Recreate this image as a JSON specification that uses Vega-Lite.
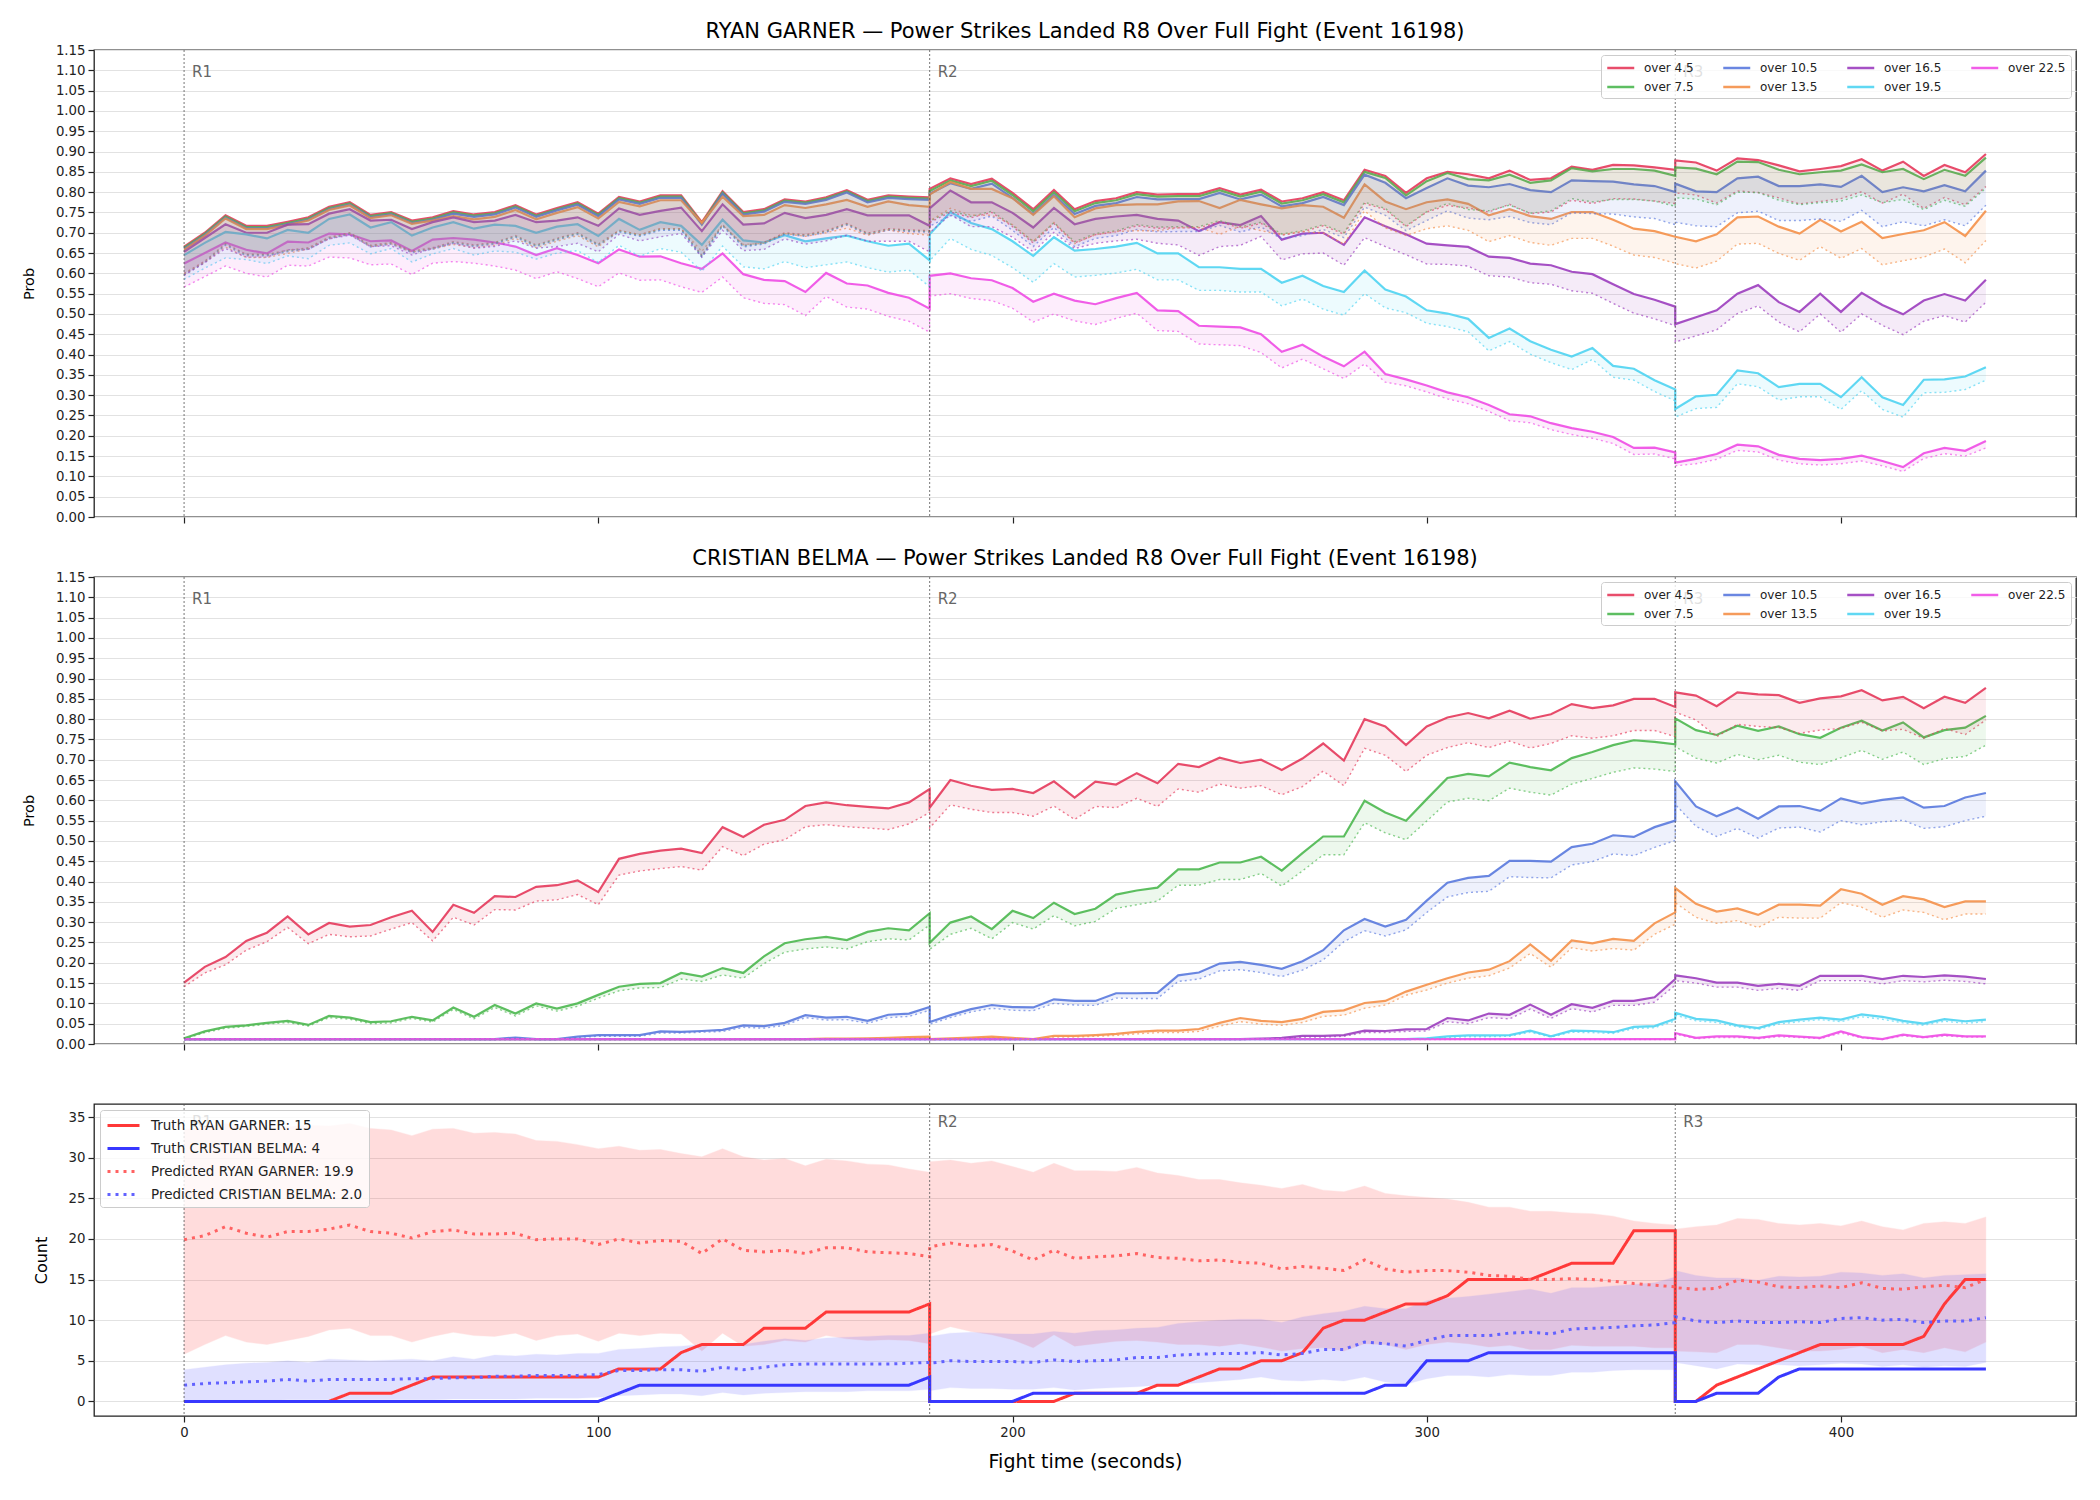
{
"$schema": "https://vega.github.io/schema/vega-lite/v6.json",
"background": "white",
"padding": {"left": 20, "top": 20, "right": 10, "bottom": 10},
"spacing": 22,
"config": {
 "font": "DejaVu Sans",
 "view": {"stroke": "#222222", "strokeWidth": 1.3},
 "title": {"fontSize": 21, "fontWeight": "normal", "anchor": "middle", "offset": 8, "color": "#000000"},
 "axis": {"labelFontSize": 13.3, "titleFontSize": 14.5, "titleFontWeight": "normal", "labelColor": "#222222", "titleColor": "#000000", "tickColor": "#222222", "tickSize": 6, "tickWidth": 1.2, "domain": false, "gridColor": "#e2e2e2", "gridWidth": 1, "labelPadding": 3, "labelOverlap": false, "labelBound": false},
 "legend": {"labelFontSize": 12, "labelColor": "#222222"}
},
"datasets": {
"rounds": [{"t":0,"r":"R1"},{"t":180,"r":"R2"},{"t":360,"r":"R3"}],
"ryan": [
{"t":0,"s":4.5,"v":0.666,"l":0.600},{"t":5,"s":4.5,"v":0.700,"l":0.630},{"t":10,"s":4.5,"v":0.743,"l":0.673},{"t":15,"s":4.5,"v":0.717,"l":0.647},{"t":20,"s":4.5,"v":0.717,"l":0.647},{"t":25,"s":4.5,"v":0.727,"l":0.657},{"t":30,"s":4.5,"v":0.738,"l":0.663},{"t":35,"s":4.5,"v":0.764,"l":0.689},{"t":40,"s":4.5,"v":0.775,"l":0.700},{"t":45,"s":4.5,"v":0.744,"l":0.669},{"t":50,"s":4.5,"v":0.751,"l":0.676},{"t":55,"s":4.5,"v":0.730,"l":0.655},{"t":60,"s":4.5,"v":0.738,"l":0.663},{"t":65,"s":4.5,"v":0.753,"l":0.678},{"t":70,"s":4.5,"v":0.745,"l":0.670},{"t":75,"s":4.5,"v":0.751,"l":0.676},{"t":80,"s":4.5,"v":0.768,"l":0.693},{"t":85,"s":4.5,"v":0.745,"l":0.670},{"t":90,"s":4.5,"v":0.761,"l":0.686},{"t":95,"s":4.5,"v":0.775,"l":0.700},{"t":100,"s":4.5,"v":0.747,"l":0.672},{"t":105,"s":4.5,"v":0.788,"l":0.706},{"t":110,"s":4.5,"v":0.777,"l":0.695},{"t":115,"s":4.5,"v":0.792,"l":0.710},{"t":120,"s":4.5,"v":0.792,"l":0.710},{"t":125,"s":4.5,"v":0.726,"l":0.644},{"t":130,"s":4.5,"v":0.802,"l":0.720},{"t":135,"s":4.5,"v":0.751,"l":0.669},{"t":140,"s":4.5,"v":0.758,"l":0.676},{"t":145,"s":4.5,"v":0.782,"l":0.700},{"t":150,"s":4.5,"v":0.777,"l":0.695},{"t":155,"s":4.5,"v":0.787,"l":0.705},{"t":160,"s":4.5,"v":0.805,"l":0.723},{"t":165,"s":4.5,"v":0.781,"l":0.699},{"t":170,"s":4.5,"v":0.792,"l":0.710},{"t":175,"s":4.5,"v":0.789,"l":0.707},{"t":180,"s":4.5,"v":0.787,"l":0.705},
{"t":180,"s":4.5,"v":0.808,"l":0.725},{"t":185,"s":4.5,"v":0.834,"l":0.751},{"t":190,"s":4.5,"v":0.820,"l":0.737},{"t":195,"s":4.5,"v":0.833,"l":0.750},{"t":200,"s":4.5,"v":0.798,"l":0.715},{"t":205,"s":4.5,"v":0.758,"l":0.675},{"t":210,"s":4.5,"v":0.805,"l":0.722},{"t":215,"s":4.5,"v":0.758,"l":0.675},{"t":220,"s":4.5,"v":0.778,"l":0.695},{"t":225,"s":4.5,"v":0.785,"l":0.702},{"t":230,"s":4.5,"v":0.800,"l":0.717},{"t":235,"s":4.5,"v":0.794,"l":0.711},{"t":240,"s":4.5,"v":0.795,"l":0.712},{"t":245,"s":4.5,"v":0.795,"l":0.712},{"t":250,"s":4.5,"v":0.810,"l":0.727},{"t":255,"s":4.5,"v":0.794,"l":0.711},{"t":260,"s":4.5,"v":0.806,"l":0.723},{"t":265,"s":4.5,"v":0.777,"l":0.694},{"t":270,"s":4.5,"v":0.785,"l":0.702},{"t":275,"s":4.5,"v":0.800,"l":0.717},{"t":280,"s":4.5,"v":0.780,"l":0.697},{"t":285,"s":4.5,"v":0.855,"l":0.772},{"t":290,"s":4.5,"v":0.840,"l":0.757},{"t":295,"s":4.5,"v":0.798,"l":0.715},{"t":300,"s":4.5,"v":0.834,"l":0.751},{"t":305,"s":4.5,"v":0.850,"l":0.767},{"t":310,"s":4.5,"v":0.844,"l":0.761},{"t":315,"s":4.5,"v":0.834,"l":0.751},{"t":320,"s":4.5,"v":0.853,"l":0.770},{"t":325,"s":4.5,"v":0.830,"l":0.747},{"t":330,"s":4.5,"v":0.834,"l":0.751},{"t":335,"s":4.5,"v":0.863,"l":0.780},{"t":340,"s":4.5,"v":0.855,"l":0.772},{"t":345,"s":4.5,"v":0.867,"l":0.784},{"t":350,"s":4.5,"v":0.866,"l":0.783},{"t":355,"s":4.5,"v":0.861,"l":0.778},{"t":360,"s":4.5,"v":0.855,"l":0.772},
{"t":360,"s":4.5,"v":0.878,"l":0.798},{"t":365,"s":4.5,"v":0.873,"l":0.793},{"t":370,"s":4.5,"v":0.853,"l":0.773},{"t":375,"s":4.5,"v":0.883,"l":0.803},{"t":380,"s":4.5,"v":0.879,"l":0.799},{"t":385,"s":4.5,"v":0.866,"l":0.786},{"t":390,"s":4.5,"v":0.851,"l":0.771},{"t":395,"s":4.5,"v":0.857,"l":0.777},{"t":400,"s":4.5,"v":0.864,"l":0.784},{"t":405,"s":4.5,"v":0.881,"l":0.801},{"t":410,"s":4.5,"v":0.853,"l":0.773},{"t":415,"s":4.5,"v":0.875,"l":0.795},{"t":420,"s":4.5,"v":0.840,"l":0.760},{"t":425,"s":4.5,"v":0.867,"l":0.787},{"t":430,"s":4.5,"v":0.849,"l":0.769},{"t":435,"s":4.5,"v":0.894,"l":0.814},
{"t":0,"s":7.5,"v":0.663,"l":0.598},{"t":5,"s":7.5,"v":0.697,"l":0.628},{"t":10,"s":7.5,"v":0.740,"l":0.671},{"t":15,"s":7.5,"v":0.714,"l":0.645},{"t":20,"s":7.5,"v":0.714,"l":0.645},{"t":25,"s":7.5,"v":0.724,"l":0.655},{"t":30,"s":7.5,"v":0.735,"l":0.661},{"t":35,"s":7.5,"v":0.761,"l":0.687},{"t":40,"s":7.5,"v":0.772,"l":0.698},{"t":45,"s":7.5,"v":0.741,"l":0.667},{"t":50,"s":7.5,"v":0.748,"l":0.674},{"t":55,"s":7.5,"v":0.727,"l":0.653},{"t":60,"s":7.5,"v":0.735,"l":0.661},{"t":65,"s":7.5,"v":0.750,"l":0.676},{"t":70,"s":7.5,"v":0.742,"l":0.668},{"t":75,"s":7.5,"v":0.748,"l":0.674},{"t":80,"s":7.5,"v":0.765,"l":0.691},{"t":85,"s":7.5,"v":0.742,"l":0.668},{"t":90,"s":7.5,"v":0.758,"l":0.684},{"t":95,"s":7.5,"v":0.772,"l":0.698},{"t":100,"s":7.5,"v":0.744,"l":0.670},{"t":105,"s":7.5,"v":0.785,"l":0.704},{"t":110,"s":7.5,"v":0.774,"l":0.693},{"t":115,"s":7.5,"v":0.789,"l":0.708},{"t":120,"s":7.5,"v":0.789,"l":0.708},{"t":125,"s":7.5,"v":0.723,"l":0.642},{"t":130,"s":7.5,"v":0.799,"l":0.718},{"t":135,"s":7.5,"v":0.748,"l":0.667},{"t":140,"s":7.5,"v":0.755,"l":0.674},{"t":145,"s":7.5,"v":0.779,"l":0.698},{"t":150,"s":7.5,"v":0.774,"l":0.693},{"t":155,"s":7.5,"v":0.784,"l":0.703},{"t":160,"s":7.5,"v":0.802,"l":0.721},{"t":165,"s":7.5,"v":0.778,"l":0.697},{"t":170,"s":7.5,"v":0.789,"l":0.708},{"t":175,"s":7.5,"v":0.786,"l":0.705},{"t":180,"s":7.5,"v":0.784,"l":0.703},
{"t":180,"s":7.5,"v":0.803,"l":0.728},{"t":185,"s":7.5,"v":0.829,"l":0.754},{"t":190,"s":7.5,"v":0.815,"l":0.740},{"t":195,"s":7.5,"v":0.828,"l":0.753},{"t":200,"s":7.5,"v":0.793,"l":0.718},{"t":205,"s":7.5,"v":0.753,"l":0.678},{"t":210,"s":7.5,"v":0.800,"l":0.725},{"t":215,"s":7.5,"v":0.753,"l":0.678},{"t":220,"s":7.5,"v":0.773,"l":0.698},{"t":225,"s":7.5,"v":0.780,"l":0.705},{"t":230,"s":7.5,"v":0.795,"l":0.720},{"t":235,"s":7.5,"v":0.789,"l":0.714},{"t":240,"s":7.5,"v":0.790,"l":0.715},{"t":245,"s":7.5,"v":0.790,"l":0.715},{"t":250,"s":7.5,"v":0.805,"l":0.730},{"t":255,"s":7.5,"v":0.789,"l":0.714},{"t":260,"s":7.5,"v":0.801,"l":0.726},{"t":265,"s":7.5,"v":0.772,"l":0.697},{"t":270,"s":7.5,"v":0.780,"l":0.705},{"t":275,"s":7.5,"v":0.795,"l":0.720},{"t":280,"s":7.5,"v":0.775,"l":0.700},{"t":285,"s":7.5,"v":0.850,"l":0.775},{"t":290,"s":7.5,"v":0.835,"l":0.760},{"t":295,"s":7.5,"v":0.792,"l":0.717},{"t":300,"s":7.5,"v":0.827,"l":0.752},{"t":305,"s":7.5,"v":0.847,"l":0.772},{"t":310,"s":7.5,"v":0.832,"l":0.757},{"t":315,"s":7.5,"v":0.829,"l":0.754},{"t":320,"s":7.5,"v":0.843,"l":0.768},{"t":325,"s":7.5,"v":0.823,"l":0.748},{"t":330,"s":7.5,"v":0.829,"l":0.754},{"t":335,"s":7.5,"v":0.859,"l":0.784},{"t":340,"s":7.5,"v":0.851,"l":0.776},{"t":345,"s":7.5,"v":0.857,"l":0.782},{"t":350,"s":7.5,"v":0.857,"l":0.782},{"t":355,"s":7.5,"v":0.853,"l":0.778},{"t":360,"s":7.5,"v":0.840,"l":0.765},
{"t":360,"s":7.5,"v":0.861,"l":0.786},{"t":365,"s":7.5,"v":0.858,"l":0.783},{"t":370,"s":7.5,"v":0.844,"l":0.769},{"t":375,"s":7.5,"v":0.875,"l":0.800},{"t":380,"s":7.5,"v":0.874,"l":0.799},{"t":385,"s":7.5,"v":0.855,"l":0.780},{"t":390,"s":7.5,"v":0.844,"l":0.769},{"t":395,"s":7.5,"v":0.849,"l":0.774},{"t":400,"s":7.5,"v":0.853,"l":0.778},{"t":405,"s":7.5,"v":0.868,"l":0.793},{"t":410,"s":7.5,"v":0.849,"l":0.774},{"t":415,"s":7.5,"v":0.857,"l":0.782},{"t":420,"s":7.5,"v":0.832,"l":0.757},{"t":425,"s":7.5,"v":0.855,"l":0.780},{"t":430,"s":7.5,"v":0.840,"l":0.765},{"t":435,"s":7.5,"v":0.885,"l":0.810},
{"t":0,"s":10.5,"v":0.660,"l":0.596},{"t":5,"s":10.5,"v":0.694,"l":0.626},{"t":10,"s":10.5,"v":0.737,"l":0.669},{"t":15,"s":10.5,"v":0.711,"l":0.643},{"t":20,"s":10.5,"v":0.711,"l":0.643},{"t":25,"s":10.5,"v":0.721,"l":0.653},{"t":30,"s":10.5,"v":0.732,"l":0.659},{"t":35,"s":10.5,"v":0.758,"l":0.685},{"t":40,"s":10.5,"v":0.769,"l":0.696},{"t":45,"s":10.5,"v":0.738,"l":0.665},{"t":50,"s":10.5,"v":0.745,"l":0.672},{"t":55,"s":10.5,"v":0.724,"l":0.651},{"t":60,"s":10.5,"v":0.732,"l":0.659},{"t":65,"s":10.5,"v":0.747,"l":0.674},{"t":70,"s":10.5,"v":0.739,"l":0.666},{"t":75,"s":10.5,"v":0.745,"l":0.672},{"t":80,"s":10.5,"v":0.762,"l":0.689},{"t":85,"s":10.5,"v":0.739,"l":0.666},{"t":90,"s":10.5,"v":0.755,"l":0.682},{"t":95,"s":10.5,"v":0.769,"l":0.696},{"t":100,"s":10.5,"v":0.741,"l":0.668},{"t":105,"s":10.5,"v":0.782,"l":0.702},{"t":110,"s":10.5,"v":0.771,"l":0.691},{"t":115,"s":10.5,"v":0.786,"l":0.706},{"t":120,"s":10.5,"v":0.786,"l":0.706},{"t":125,"s":10.5,"v":0.720,"l":0.640},{"t":130,"s":10.5,"v":0.796,"l":0.716},{"t":135,"s":10.5,"v":0.745,"l":0.665},{"t":140,"s":10.5,"v":0.752,"l":0.672},{"t":145,"s":10.5,"v":0.776,"l":0.696},{"t":150,"s":10.5,"v":0.771,"l":0.691},{"t":155,"s":10.5,"v":0.781,"l":0.701},{"t":160,"s":10.5,"v":0.799,"l":0.719},{"t":165,"s":10.5,"v":0.775,"l":0.695},{"t":170,"s":10.5,"v":0.786,"l":0.706},{"t":175,"s":10.5,"v":0.783,"l":0.703},{"t":180,"s":10.5,"v":0.781,"l":0.701},
{"t":180,"s":10.5,"v":0.796,"l":0.716},{"t":185,"s":10.5,"v":0.822,"l":0.742},{"t":190,"s":10.5,"v":0.808,"l":0.728},{"t":195,"s":10.5,"v":0.821,"l":0.741},{"t":200,"s":10.5,"v":0.786,"l":0.706},{"t":205,"s":10.5,"v":0.746,"l":0.666},{"t":210,"s":10.5,"v":0.793,"l":0.713},{"t":215,"s":10.5,"v":0.746,"l":0.666},{"t":220,"s":10.5,"v":0.766,"l":0.686},{"t":225,"s":10.5,"v":0.773,"l":0.693},{"t":230,"s":10.5,"v":0.788,"l":0.708},{"t":235,"s":10.5,"v":0.782,"l":0.702},{"t":240,"s":10.5,"v":0.783,"l":0.703},{"t":245,"s":10.5,"v":0.783,"l":0.703},{"t":250,"s":10.5,"v":0.798,"l":0.718},{"t":255,"s":10.5,"v":0.782,"l":0.702},{"t":260,"s":10.5,"v":0.794,"l":0.714},{"t":265,"s":10.5,"v":0.765,"l":0.685},{"t":270,"s":10.5,"v":0.773,"l":0.693},{"t":275,"s":10.5,"v":0.788,"l":0.708},{"t":280,"s":10.5,"v":0.768,"l":0.688},{"t":285,"s":10.5,"v":0.843,"l":0.763},{"t":290,"s":10.5,"v":0.823,"l":0.743},{"t":295,"s":10.5,"v":0.785,"l":0.705},{"t":300,"s":10.5,"v":0.810,"l":0.730},{"t":305,"s":10.5,"v":0.834,"l":0.754},{"t":310,"s":10.5,"v":0.816,"l":0.736},{"t":315,"s":10.5,"v":0.812,"l":0.732},{"t":320,"s":10.5,"v":0.820,"l":0.740},{"t":325,"s":10.5,"v":0.805,"l":0.725},{"t":330,"s":10.5,"v":0.800,"l":0.720},{"t":335,"s":10.5,"v":0.829,"l":0.749},{"t":340,"s":10.5,"v":0.827,"l":0.747},{"t":345,"s":10.5,"v":0.826,"l":0.746},{"t":350,"s":10.5,"v":0.819,"l":0.739},{"t":355,"s":10.5,"v":0.815,"l":0.735},{"t":360,"s":10.5,"v":0.800,"l":0.720},
{"t":360,"s":10.5,"v":0.821,"l":0.726},{"t":365,"s":10.5,"v":0.802,"l":0.717},{"t":370,"s":10.5,"v":0.800,"l":0.715},{"t":375,"s":10.5,"v":0.834,"l":0.749},{"t":380,"s":10.5,"v":0.838,"l":0.753},{"t":385,"s":10.5,"v":0.815,"l":0.730},{"t":390,"s":10.5,"v":0.815,"l":0.730},{"t":395,"s":10.5,"v":0.819,"l":0.734},{"t":400,"s":10.5,"v":0.813,"l":0.728},{"t":405,"s":10.5,"v":0.840,"l":0.755},{"t":410,"s":10.5,"v":0.800,"l":0.715},{"t":415,"s":10.5,"v":0.812,"l":0.727},{"t":420,"s":10.5,"v":0.802,"l":0.717},{"t":425,"s":10.5,"v":0.817,"l":0.732},{"t":430,"s":10.5,"v":0.802,"l":0.717},{"t":435,"s":10.5,"v":0.853,"l":0.768},
{"t":0,"s":13.5,"v":0.658,"l":0.598},{"t":5,"s":13.5,"v":0.692,"l":0.627},{"t":10,"s":13.5,"v":0.735,"l":0.665},{"t":15,"s":13.5,"v":0.709,"l":0.639},{"t":20,"s":13.5,"v":0.709,"l":0.639},{"t":25,"s":13.5,"v":0.719,"l":0.649},{"t":30,"s":13.5,"v":0.730,"l":0.660},{"t":35,"s":13.5,"v":0.756,"l":0.686},{"t":40,"s":13.5,"v":0.767,"l":0.697},{"t":45,"s":13.5,"v":0.736,"l":0.666},{"t":50,"s":13.5,"v":0.743,"l":0.673},{"t":55,"s":13.5,"v":0.722,"l":0.652},{"t":60,"s":13.5,"v":0.730,"l":0.660},{"t":65,"s":13.5,"v":0.741,"l":0.671},{"t":70,"s":13.5,"v":0.733,"l":0.663},{"t":75,"s":13.5,"v":0.739,"l":0.669},{"t":80,"s":13.5,"v":0.756,"l":0.686},{"t":85,"s":13.5,"v":0.733,"l":0.663},{"t":90,"s":13.5,"v":0.749,"l":0.679},{"t":95,"s":13.5,"v":0.763,"l":0.693},{"t":100,"s":13.5,"v":0.735,"l":0.665},{"t":105,"s":13.5,"v":0.776,"l":0.706},{"t":110,"s":13.5,"v":0.765,"l":0.695},{"t":115,"s":13.5,"v":0.780,"l":0.710},{"t":120,"s":13.5,"v":0.780,"l":0.710},{"t":125,"s":13.5,"v":0.724,"l":0.654},{"t":130,"s":13.5,"v":0.789,"l":0.719},{"t":135,"s":13.5,"v":0.741,"l":0.671},{"t":140,"s":13.5,"v":0.744,"l":0.674},{"t":145,"s":13.5,"v":0.768,"l":0.698},{"t":150,"s":13.5,"v":0.761,"l":0.691},{"t":155,"s":13.5,"v":0.770,"l":0.700},{"t":160,"s":13.5,"v":0.781,"l":0.711},{"t":165,"s":13.5,"v":0.764,"l":0.694},{"t":170,"s":13.5,"v":0.777,"l":0.707},{"t":175,"s":13.5,"v":0.768,"l":0.698},{"t":180,"s":13.5,"v":0.764,"l":0.694},
{"t":180,"s":13.5,"v":0.794,"l":0.729},{"t":185,"s":13.5,"v":0.825,"l":0.760},{"t":190,"s":13.5,"v":0.808,"l":0.743},{"t":195,"s":13.5,"v":0.808,"l":0.743},{"t":200,"s":13.5,"v":0.785,"l":0.720},{"t":205,"s":13.5,"v":0.744,"l":0.679},{"t":210,"s":13.5,"v":0.790,"l":0.725},{"t":215,"s":13.5,"v":0.738,"l":0.673},{"t":220,"s":13.5,"v":0.760,"l":0.695},{"t":225,"s":13.5,"v":0.768,"l":0.703},{"t":230,"s":13.5,"v":0.770,"l":0.705},{"t":235,"s":13.5,"v":0.770,"l":0.705},{"t":240,"s":13.5,"v":0.777,"l":0.712},{"t":245,"s":13.5,"v":0.778,"l":0.713},{"t":250,"s":13.5,"v":0.761,"l":0.696},{"t":255,"s":13.5,"v":0.781,"l":0.716},{"t":260,"s":13.5,"v":0.770,"l":0.705},{"t":265,"s":13.5,"v":0.760,"l":0.695},{"t":270,"s":13.5,"v":0.768,"l":0.703},{"t":275,"s":13.5,"v":0.764,"l":0.699},{"t":280,"s":13.5,"v":0.737,"l":0.672},{"t":285,"s":13.5,"v":0.819,"l":0.754},{"t":290,"s":13.5,"v":0.777,"l":0.712},{"t":295,"s":13.5,"v":0.758,"l":0.693},{"t":300,"s":13.5,"v":0.775,"l":0.710},{"t":305,"s":13.5,"v":0.782,"l":0.717},{"t":310,"s":13.5,"v":0.771,"l":0.706},{"t":315,"s":13.5,"v":0.743,"l":0.678},{"t":320,"s":13.5,"v":0.758,"l":0.693},{"t":325,"s":13.5,"v":0.741,"l":0.676},{"t":330,"s":13.5,"v":0.734,"l":0.669},{"t":335,"s":13.5,"v":0.751,"l":0.686},{"t":340,"s":13.5,"v":0.751,"l":0.686},{"t":345,"s":13.5,"v":0.732,"l":0.667},{"t":350,"s":13.5,"v":0.710,"l":0.645},{"t":355,"s":13.5,"v":0.704,"l":0.639},{"t":360,"s":13.5,"v":0.690,"l":0.625},
{"t":360,"s":13.5,"v":0.690,"l":0.624},{"t":365,"s":13.5,"v":0.679,"l":0.613},{"t":370,"s":13.5,"v":0.696,"l":0.630},{"t":375,"s":13.5,"v":0.738,"l":0.672},{"t":380,"s":13.5,"v":0.740,"l":0.674},{"t":385,"s":13.5,"v":0.715,"l":0.649},{"t":390,"s":13.5,"v":0.698,"l":0.632},{"t":395,"s":13.5,"v":0.732,"l":0.666},{"t":400,"s":13.5,"v":0.703,"l":0.637},{"t":405,"s":13.5,"v":0.727,"l":0.661},{"t":410,"s":13.5,"v":0.687,"l":0.621},{"t":415,"s":13.5,"v":0.697,"l":0.631},{"t":420,"s":13.5,"v":0.706,"l":0.640},{"t":425,"s":13.5,"v":0.726,"l":0.660},{"t":430,"s":13.5,"v":0.692,"l":0.626},{"t":435,"s":13.5,"v":0.754,"l":0.681},
{"t":0,"s":16.5,"v":0.653,"l":0.595},{"t":5,"s":16.5,"v":0.687,"l":0.627},{"t":10,"s":16.5,"v":0.721,"l":0.661},{"t":15,"s":16.5,"v":0.700,"l":0.640},{"t":20,"s":16.5,"v":0.700,"l":0.640},{"t":25,"s":16.5,"v":0.720,"l":0.658},{"t":30,"s":16.5,"v":0.721,"l":0.659},{"t":35,"s":16.5,"v":0.747,"l":0.685},{"t":40,"s":16.5,"v":0.758,"l":0.694},{"t":45,"s":16.5,"v":0.730,"l":0.666},{"t":50,"s":16.5,"v":0.732,"l":0.668},{"t":55,"s":16.5,"v":0.709,"l":0.645},{"t":60,"s":16.5,"v":0.726,"l":0.662},{"t":65,"s":16.5,"v":0.738,"l":0.674},{"t":70,"s":16.5,"v":0.726,"l":0.662},{"t":75,"s":16.5,"v":0.730,"l":0.666},{"t":80,"s":16.5,"v":0.744,"l":0.680},{"t":85,"s":16.5,"v":0.726,"l":0.662},{"t":90,"s":16.5,"v":0.730,"l":0.666},{"t":95,"s":16.5,"v":0.738,"l":0.674},{"t":100,"s":16.5,"v":0.717,"l":0.653},{"t":105,"s":16.5,"v":0.760,"l":0.696},{"t":110,"s":16.5,"v":0.744,"l":0.680},{"t":115,"s":16.5,"v":0.754,"l":0.690},{"t":120,"s":16.5,"v":0.762,"l":0.698},{"t":125,"s":16.5,"v":0.704,"l":0.640},{"t":130,"s":16.5,"v":0.770,"l":0.706},{"t":135,"s":16.5,"v":0.720,"l":0.656},{"t":140,"s":16.5,"v":0.723,"l":0.659},{"t":145,"s":16.5,"v":0.749,"l":0.685},{"t":150,"s":16.5,"v":0.736,"l":0.672},{"t":155,"s":16.5,"v":0.744,"l":0.680},{"t":160,"s":16.5,"v":0.758,"l":0.694},{"t":165,"s":16.5,"v":0.743,"l":0.679},{"t":170,"s":16.5,"v":0.743,"l":0.679},{"t":175,"s":16.5,"v":0.743,"l":0.679},{"t":180,"s":16.5,"v":0.717,"l":0.653},
{"t":180,"s":16.5,"v":0.760,"l":0.700},{"t":185,"s":16.5,"v":0.804,"l":0.744},{"t":190,"s":16.5,"v":0.775,"l":0.715},{"t":195,"s":16.5,"v":0.775,"l":0.715},{"t":200,"s":16.5,"v":0.749,"l":0.689},{"t":205,"s":16.5,"v":0.713,"l":0.653},{"t":210,"s":16.5,"v":0.761,"l":0.701},{"t":215,"s":16.5,"v":0.721,"l":0.661},{"t":220,"s":16.5,"v":0.734,"l":0.674},{"t":225,"s":16.5,"v":0.740,"l":0.680},{"t":230,"s":16.5,"v":0.744,"l":0.684},{"t":235,"s":16.5,"v":0.734,"l":0.674},{"t":240,"s":16.5,"v":0.730,"l":0.670},{"t":245,"s":16.5,"v":0.704,"l":0.644},{"t":250,"s":16.5,"v":0.726,"l":0.666},{"t":255,"s":16.5,"v":0.719,"l":0.669},{"t":260,"s":16.5,"v":0.741,"l":0.691},{"t":265,"s":16.5,"v":0.683,"l":0.633},{"t":270,"s":16.5,"v":0.698,"l":0.648},{"t":275,"s":16.5,"v":0.700,"l":0.650},{"t":280,"s":16.5,"v":0.670,"l":0.620},{"t":285,"s":16.5,"v":0.738,"l":0.688},{"t":290,"s":16.5,"v":0.716,"l":0.666},{"t":295,"s":16.5,"v":0.696,"l":0.646},{"t":300,"s":16.5,"v":0.673,"l":0.623},{"t":305,"s":16.5,"v":0.669,"l":0.622},{"t":310,"s":16.5,"v":0.665,"l":0.618},{"t":315,"s":16.5,"v":0.641,"l":0.594},{"t":320,"s":16.5,"v":0.638,"l":0.591},{"t":325,"s":16.5,"v":0.624,"l":0.577},{"t":330,"s":16.5,"v":0.620,"l":0.573},{"t":335,"s":16.5,"v":0.604,"l":0.557},{"t":340,"s":16.5,"v":0.598,"l":0.551},{"t":345,"s":16.5,"v":0.573,"l":0.526},{"t":350,"s":16.5,"v":0.549,"l":0.502},{"t":355,"s":16.5,"v":0.535,"l":0.488},{"t":360,"s":16.5,"v":0.518,"l":0.471},
{"t":360,"s":16.5,"v":0.475,"l":0.431},{"t":365,"s":16.5,"v":0.492,"l":0.446},{"t":370,"s":16.5,"v":0.509,"l":0.461},{"t":375,"s":16.5,"v":0.550,"l":0.501},{"t":380,"s":16.5,"v":0.571,"l":0.520},{"t":385,"s":16.5,"v":0.529,"l":0.480},{"t":390,"s":16.5,"v":0.505,"l":0.456},{"t":395,"s":16.5,"v":0.550,"l":0.500},{"t":400,"s":16.5,"v":0.505,"l":0.455},{"t":405,"s":16.5,"v":0.552,"l":0.500},{"t":410,"s":16.5,"v":0.522,"l":0.472},{"t":415,"s":16.5,"v":0.499,"l":0.449},{"t":420,"s":16.5,"v":0.533,"l":0.482},{"t":425,"s":16.5,"v":0.549,"l":0.496},{"t":430,"s":16.5,"v":0.533,"l":0.480},{"t":435,"s":16.5,"v":0.584,"l":0.529},
{"t":0,"s":19.5,"v":0.645,"l":0.585},{"t":5,"s":19.5,"v":0.675,"l":0.613},{"t":10,"s":19.5,"v":0.702,"l":0.638},{"t":15,"s":19.5,"v":0.696,"l":0.634},{"t":20,"s":19.5,"v":0.686,"l":0.624},{"t":25,"s":19.5,"v":0.707,"l":0.643},{"t":30,"s":19.5,"v":0.700,"l":0.636},{"t":35,"s":19.5,"v":0.734,"l":0.669},{"t":40,"s":19.5,"v":0.745,"l":0.675},{"t":45,"s":19.5,"v":0.713,"l":0.648},{"t":50,"s":19.5,"v":0.726,"l":0.661},{"t":55,"s":19.5,"v":0.693,"l":0.628},{"t":60,"s":19.5,"v":0.713,"l":0.648},{"t":65,"s":19.5,"v":0.726,"l":0.661},{"t":70,"s":19.5,"v":0.710,"l":0.645},{"t":75,"s":19.5,"v":0.720,"l":0.655},{"t":80,"s":19.5,"v":0.717,"l":0.652},{"t":85,"s":19.5,"v":0.700,"l":0.635},{"t":90,"s":19.5,"v":0.715,"l":0.650},{"t":95,"s":19.5,"v":0.721,"l":0.656},{"t":100,"s":19.5,"v":0.692,"l":0.627},{"t":105,"s":19.5,"v":0.734,"l":0.669},{"t":110,"s":19.5,"v":0.707,"l":0.642},{"t":115,"s":19.5,"v":0.726,"l":0.661},{"t":120,"s":19.5,"v":0.717,"l":0.652},{"t":125,"s":19.5,"v":0.670,"l":0.605},{"t":130,"s":19.5,"v":0.732,"l":0.667},{"t":135,"s":19.5,"v":0.681,"l":0.616},{"t":140,"s":19.5,"v":0.676,"l":0.611},{"t":145,"s":19.5,"v":0.694,"l":0.629},{"t":150,"s":19.5,"v":0.679,"l":0.614},{"t":155,"s":19.5,"v":0.686,"l":0.621},{"t":160,"s":19.5,"v":0.693,"l":0.628},{"t":165,"s":19.5,"v":0.679,"l":0.614},{"t":170,"s":19.5,"v":0.668,"l":0.603},{"t":175,"s":19.5,"v":0.673,"l":0.608},{"t":180,"s":19.5,"v":0.632,"l":0.567},
{"t":180,"s":19.5,"v":0.696,"l":0.631},{"t":185,"s":19.5,"v":0.751,"l":0.686},{"t":190,"s":19.5,"v":0.724,"l":0.659},{"t":195,"s":19.5,"v":0.709,"l":0.644},{"t":200,"s":19.5,"v":0.679,"l":0.614},{"t":205,"s":19.5,"v":0.643,"l":0.578},{"t":210,"s":19.5,"v":0.689,"l":0.624},{"t":215,"s":19.5,"v":0.656,"l":0.591},{"t":220,"s":19.5,"v":0.660,"l":0.595},{"t":225,"s":19.5,"v":0.666,"l":0.601},{"t":230,"s":19.5,"v":0.675,"l":0.610},{"t":235,"s":19.5,"v":0.649,"l":0.584},{"t":240,"s":19.5,"v":0.649,"l":0.584},{"t":245,"s":19.5,"v":0.615,"l":0.558},{"t":250,"s":19.5,"v":0.615,"l":0.558},{"t":255,"s":19.5,"v":0.611,"l":0.554},{"t":260,"s":19.5,"v":0.611,"l":0.554},{"t":265,"s":19.5,"v":0.577,"l":0.520},{"t":270,"s":19.5,"v":0.594,"l":0.537},{"t":275,"s":19.5,"v":0.569,"l":0.512},{"t":280,"s":19.5,"v":0.554,"l":0.497},{"t":285,"s":19.5,"v":0.607,"l":0.550},{"t":290,"s":19.5,"v":0.560,"l":0.515},{"t":295,"s":19.5,"v":0.543,"l":0.503},{"t":300,"s":19.5,"v":0.509,"l":0.477},{"t":305,"s":19.5,"v":0.501,"l":0.469},{"t":310,"s":19.5,"v":0.488,"l":0.456},{"t":315,"s":19.5,"v":0.441,"l":0.409},{"t":320,"s":19.5,"v":0.464,"l":0.432},{"t":325,"s":19.5,"v":0.433,"l":0.401},{"t":330,"s":19.5,"v":0.412,"l":0.380},{"t":335,"s":19.5,"v":0.395,"l":0.363},{"t":340,"s":19.5,"v":0.416,"l":0.388},{"t":345,"s":19.5,"v":0.372,"l":0.344},{"t":350,"s":19.5,"v":0.365,"l":0.337},{"t":355,"s":19.5,"v":0.337,"l":0.309},{"t":360,"s":19.5,"v":0.314,"l":0.286},
{"t":360,"s":19.5,"v":0.266,"l":0.246},{"t":365,"s":19.5,"v":0.297,"l":0.267},{"t":370,"s":19.5,"v":0.301,"l":0.270},{"t":375,"s":19.5,"v":0.361,"l":0.328},{"t":380,"s":19.5,"v":0.354,"l":0.321},{"t":385,"s":19.5,"v":0.320,"l":0.288},{"t":390,"s":19.5,"v":0.328,"l":0.296},{"t":395,"s":19.5,"v":0.328,"l":0.296},{"t":400,"s":19.5,"v":0.295,"l":0.265},{"t":405,"s":19.5,"v":0.344,"l":0.311},{"t":410,"s":19.5,"v":0.295,"l":0.265},{"t":415,"s":19.5,"v":0.276,"l":0.246},{"t":420,"s":19.5,"v":0.338,"l":0.306},{"t":425,"s":19.5,"v":0.339,"l":0.307},{"t":430,"s":19.5,"v":0.346,"l":0.314},{"t":435,"s":19.5,"v":0.369,"l":0.337},
{"t":0,"s":22.5,"v":0.624,"l":0.566},{"t":5,"s":22.5,"v":0.650,"l":0.592},{"t":10,"s":22.5,"v":0.676,"l":0.618},{"t":15,"s":22.5,"v":0.658,"l":0.600},{"t":20,"s":22.5,"v":0.649,"l":0.591},{"t":25,"s":22.5,"v":0.678,"l":0.620},{"t":30,"s":22.5,"v":0.676,"l":0.618},{"t":35,"s":22.5,"v":0.698,"l":0.640},{"t":40,"s":22.5,"v":0.696,"l":0.638},{"t":45,"s":22.5,"v":0.679,"l":0.621},{"t":50,"s":22.5,"v":0.681,"l":0.623},{"t":55,"s":22.5,"v":0.655,"l":0.597},{"t":60,"s":22.5,"v":0.683,"l":0.625},{"t":65,"s":22.5,"v":0.687,"l":0.629},{"t":70,"s":22.5,"v":0.683,"l":0.625},{"t":75,"s":22.5,"v":0.676,"l":0.618},{"t":80,"s":22.5,"v":0.666,"l":0.608},{"t":85,"s":22.5,"v":0.645,"l":0.587},{"t":90,"s":22.5,"v":0.662,"l":0.604},{"t":95,"s":22.5,"v":0.645,"l":0.587},{"t":100,"s":22.5,"v":0.625,"l":0.567},{"t":105,"s":22.5,"v":0.659,"l":0.601},{"t":110,"s":22.5,"v":0.641,"l":0.583},{"t":115,"s":22.5,"v":0.642,"l":0.584},{"t":120,"s":22.5,"v":0.625,"l":0.567},{"t":125,"s":22.5,"v":0.611,"l":0.553},{"t":130,"s":22.5,"v":0.649,"l":0.591},{"t":135,"s":22.5,"v":0.598,"l":0.540},{"t":140,"s":22.5,"v":0.584,"l":0.526},{"t":145,"s":22.5,"v":0.581,"l":0.523},{"t":150,"s":22.5,"v":0.554,"l":0.496},{"t":155,"s":22.5,"v":0.601,"l":0.543},{"t":160,"s":22.5,"v":0.575,"l":0.517},{"t":165,"s":22.5,"v":0.570,"l":0.512},{"t":170,"s":22.5,"v":0.552,"l":0.494},{"t":175,"s":22.5,"v":0.540,"l":0.482},{"t":180,"s":22.5,"v":0.513,"l":0.455},
{"t":180,"s":22.5,"v":0.594,"l":0.544},{"t":185,"s":22.5,"v":0.600,"l":0.550},{"t":190,"s":22.5,"v":0.588,"l":0.538},{"t":195,"s":22.5,"v":0.583,"l":0.533},{"t":200,"s":22.5,"v":0.564,"l":0.514},{"t":205,"s":22.5,"v":0.530,"l":0.480},{"t":210,"s":22.5,"v":0.550,"l":0.500},{"t":215,"s":22.5,"v":0.533,"l":0.483},{"t":220,"s":22.5,"v":0.524,"l":0.474},{"t":225,"s":22.5,"v":0.539,"l":0.489},{"t":230,"s":22.5,"v":0.552,"l":0.502},{"t":235,"s":22.5,"v":0.509,"l":0.459},{"t":240,"s":22.5,"v":0.507,"l":0.457},{"t":245,"s":22.5,"v":0.471,"l":0.426},{"t":250,"s":22.5,"v":0.469,"l":0.424},{"t":255,"s":22.5,"v":0.467,"l":0.422},{"t":260,"s":22.5,"v":0.450,"l":0.405},{"t":265,"s":22.5,"v":0.407,"l":0.367},{"t":270,"s":22.5,"v":0.424,"l":0.389},{"t":275,"s":22.5,"v":0.395,"l":0.365},{"t":280,"s":22.5,"v":0.371,"l":0.341},{"t":285,"s":22.5,"v":0.407,"l":0.377},{"t":290,"s":22.5,"v":0.352,"l":0.332},{"t":295,"s":22.5,"v":0.339,"l":0.323},{"t":300,"s":22.5,"v":0.324,"l":0.308},{"t":305,"s":22.5,"v":0.307,"l":0.291},{"t":310,"s":22.5,"v":0.295,"l":0.279},{"t":315,"s":22.5,"v":0.276,"l":0.260},{"t":320,"s":22.5,"v":0.253,"l":0.237},{"t":325,"s":22.5,"v":0.248,"l":0.232},{"t":330,"s":22.5,"v":0.231,"l":0.215},{"t":335,"s":22.5,"v":0.219,"l":0.203},{"t":340,"s":22.5,"v":0.210,"l":0.194},{"t":345,"s":22.5,"v":0.197,"l":0.181},{"t":350,"s":22.5,"v":0.170,"l":0.154},{"t":355,"s":22.5,"v":0.171,"l":0.155},{"t":360,"s":22.5,"v":0.159,"l":0.143},
{"t":360,"s":22.5,"v":0.134,"l":0.126},{"t":365,"s":22.5,"v":0.143,"l":0.131},{"t":370,"s":22.5,"v":0.155,"l":0.142},{"t":375,"s":22.5,"v":0.178,"l":0.164},{"t":380,"s":22.5,"v":0.174,"l":0.160},{"t":385,"s":22.5,"v":0.153,"l":0.140},{"t":390,"s":22.5,"v":0.143,"l":0.131},{"t":395,"s":22.5,"v":0.140,"l":0.128},{"t":400,"s":22.5,"v":0.143,"l":0.131},{"t":405,"s":22.5,"v":0.151,"l":0.138},{"t":410,"s":22.5,"v":0.138,"l":0.126},{"t":415,"s":22.5,"v":0.123,"l":0.112},{"t":420,"s":22.5,"v":0.157,"l":0.144},{"t":425,"s":22.5,"v":0.170,"l":0.156},{"t":430,"s":22.5,"v":0.163,"l":0.150},{"t":435,"s":22.5,"v":0.187,"l":0.170}
],
"belma": [
{"t":0,"s":4.5,"v":0.151,"l":0.141},{"t":5,"s":4.5,"v":0.190,"l":0.175},{"t":10,"s":4.5,"v":0.214,"l":0.195},{"t":15,"s":4.5,"v":0.254,"l":0.231},{"t":20,"s":4.5,"v":0.274,"l":0.252},{"t":25,"s":4.5,"v":0.314,"l":0.287},{"t":30,"s":4.5,"v":0.270,"l":0.247},{"t":35,"s":4.5,"v":0.298,"l":0.270},{"t":40,"s":4.5,"v":0.289,"l":0.264},{"t":45,"s":4.5,"v":0.293,"l":0.266},{"t":50,"s":4.5,"v":0.312,"l":0.283},{"t":55,"s":4.5,"v":0.328,"l":0.299},{"t":60,"s":4.5,"v":0.276,"l":0.254},{"t":65,"s":4.5,"v":0.343,"l":0.312},{"t":70,"s":4.5,"v":0.323,"l":0.293},{"t":75,"s":4.5,"v":0.364,"l":0.331},{"t":80,"s":4.5,"v":0.362,"l":0.330},{"t":85,"s":4.5,"v":0.387,"l":0.352},{"t":90,"s":4.5,"v":0.391,"l":0.355},{"t":95,"s":4.5,"v":0.403,"l":0.368},{"t":100,"s":4.5,"v":0.374,"l":0.343},{"t":105,"s":4.5,"v":0.456,"l":0.416},{"t":110,"s":4.5,"v":0.468,"l":0.426},{"t":115,"s":4.5,"v":0.476,"l":0.432},{"t":120,"s":4.5,"v":0.481,"l":0.437},{"t":125,"s":4.5,"v":0.470,"l":0.428},{"t":130,"s":4.5,"v":0.534,"l":0.486},{"t":135,"s":4.5,"v":0.510,"l":0.464},{"t":140,"s":4.5,"v":0.540,"l":0.492},{"t":145,"s":4.5,"v":0.552,"l":0.503},{"t":150,"s":4.5,"v":0.586,"l":0.535},{"t":155,"s":4.5,"v":0.595,"l":0.540},{"t":160,"s":4.5,"v":0.588,"l":0.535},{"t":165,"s":4.5,"v":0.584,"l":0.532},{"t":170,"s":4.5,"v":0.580,"l":0.528},{"t":175,"s":4.5,"v":0.595,"l":0.542},{"t":180,"s":4.5,"v":0.628,"l":0.570},
{"t":180,"s":4.5,"v":0.582,"l":0.532},{"t":185,"s":4.5,"v":0.650,"l":0.589},{"t":190,"s":4.5,"v":0.636,"l":0.578},{"t":195,"s":4.5,"v":0.626,"l":0.570},{"t":200,"s":4.5,"v":0.628,"l":0.570},{"t":205,"s":4.5,"v":0.618,"l":0.561},{"t":210,"s":4.5,"v":0.647,"l":0.586},{"t":215,"s":4.5,"v":0.607,"l":0.553},{"t":220,"s":4.5,"v":0.646,"l":0.585},{"t":225,"s":4.5,"v":0.639,"l":0.582},{"t":230,"s":4.5,"v":0.667,"l":0.605},{"t":235,"s":4.5,"v":0.642,"l":0.585},{"t":240,"s":4.5,"v":0.690,"l":0.628},{"t":245,"s":4.5,"v":0.682,"l":0.620},{"t":250,"s":4.5,"v":0.705,"l":0.640},{"t":255,"s":4.5,"v":0.692,"l":0.630},{"t":260,"s":4.5,"v":0.700,"l":0.636},{"t":265,"s":4.5,"v":0.675,"l":0.614},{"t":270,"s":4.5,"v":0.703,"l":0.634},{"t":275,"s":4.5,"v":0.740,"l":0.672},{"t":280,"s":4.5,"v":0.698,"l":0.636},{"t":285,"s":4.5,"v":0.800,"l":0.728},{"t":290,"s":4.5,"v":0.782,"l":0.711},{"t":295,"s":4.5,"v":0.736,"l":0.671},{"t":300,"s":4.5,"v":0.782,"l":0.711},{"t":305,"s":4.5,"v":0.804,"l":0.730},{"t":310,"s":4.5,"v":0.815,"l":0.742},{"t":315,"s":4.5,"v":0.802,"l":0.730},{"t":320,"s":4.5,"v":0.821,"l":0.746},{"t":325,"s":4.5,"v":0.801,"l":0.729},{"t":330,"s":4.5,"v":0.812,"l":0.740},{"t":335,"s":4.5,"v":0.837,"l":0.759},{"t":340,"s":4.5,"v":0.827,"l":0.753},{"t":345,"s":4.5,"v":0.834,"l":0.759},{"t":350,"s":4.5,"v":0.850,"l":0.772},{"t":355,"s":4.5,"v":0.850,"l":0.772},{"t":360,"s":4.5,"v":0.830,"l":0.757},
{"t":360,"s":4.5,"v":0.866,"l":0.817},{"t":365,"s":4.5,"v":0.858,"l":0.798},{"t":370,"s":4.5,"v":0.832,"l":0.757},{"t":375,"s":4.5,"v":0.866,"l":0.787},{"t":380,"s":4.5,"v":0.861,"l":0.782},{"t":385,"s":4.5,"v":0.859,"l":0.779},{"t":390,"s":4.5,"v":0.840,"l":0.765},{"t":395,"s":4.5,"v":0.851,"l":0.773},{"t":400,"s":4.5,"v":0.856,"l":0.777},{"t":405,"s":4.5,"v":0.871,"l":0.792},{"t":410,"s":4.5,"v":0.846,"l":0.771},{"t":415,"s":4.5,"v":0.855,"l":0.775},{"t":420,"s":4.5,"v":0.827,"l":0.753},{"t":425,"s":4.5,"v":0.855,"l":0.777},{"t":430,"s":4.5,"v":0.840,"l":0.762},{"t":435,"s":4.5,"v":0.877,"l":0.798},
{"t":0,"s":7.5,"v":0.014,"l":0.012},{"t":5,"s":7.5,"v":0.031,"l":0.028},{"t":10,"s":7.5,"v":0.042,"l":0.039},{"t":15,"s":7.5,"v":0.046,"l":0.043},{"t":20,"s":7.5,"v":0.052,"l":0.049},{"t":25,"s":7.5,"v":0.057,"l":0.053},{"t":30,"s":7.5,"v":0.047,"l":0.044},{"t":35,"s":7.5,"v":0.069,"l":0.065},{"t":40,"s":7.5,"v":0.065,"l":0.061},{"t":45,"s":7.5,"v":0.054,"l":0.050},{"t":50,"s":7.5,"v":0.056,"l":0.052},{"t":55,"s":7.5,"v":0.067,"l":0.063},{"t":60,"s":7.5,"v":0.058,"l":0.054},{"t":65,"s":7.5,"v":0.090,"l":0.085},{"t":70,"s":7.5,"v":0.067,"l":0.062},{"t":75,"s":7.5,"v":0.096,"l":0.090},{"t":80,"s":7.5,"v":0.075,"l":0.069},{"t":85,"s":7.5,"v":0.100,"l":0.094},{"t":90,"s":7.5,"v":0.087,"l":0.081},{"t":95,"s":7.5,"v":0.100,"l":0.093},{"t":100,"s":7.5,"v":0.121,"l":0.113},{"t":105,"s":7.5,"v":0.141,"l":0.131},{"t":110,"s":7.5,"v":0.148,"l":0.138},{"t":115,"s":7.5,"v":0.150,"l":0.139},{"t":120,"s":7.5,"v":0.175,"l":0.160},{"t":125,"s":7.5,"v":0.166,"l":0.154},{"t":130,"s":7.5,"v":0.187,"l":0.170},{"t":135,"s":7.5,"v":0.175,"l":0.162},{"t":140,"s":7.5,"v":0.216,"l":0.198},{"t":145,"s":7.5,"v":0.248,"l":0.226},{"t":150,"s":7.5,"v":0.258,"l":0.234},{"t":155,"s":7.5,"v":0.264,"l":0.239},{"t":160,"s":7.5,"v":0.256,"l":0.234},{"t":165,"s":7.5,"v":0.276,"l":0.252},{"t":170,"s":7.5,"v":0.285,"l":0.259},{"t":175,"s":7.5,"v":0.280,"l":0.256},{"t":180,"s":7.5,"v":0.322,"l":0.293},
{"t":180,"s":7.5,"v":0.249,"l":0.233},{"t":185,"s":7.5,"v":0.299,"l":0.270},{"t":190,"s":7.5,"v":0.314,"l":0.285},{"t":195,"s":7.5,"v":0.283,"l":0.259},{"t":200,"s":7.5,"v":0.328,"l":0.299},{"t":205,"s":7.5,"v":0.310,"l":0.283},{"t":210,"s":7.5,"v":0.348,"l":0.316},{"t":215,"s":7.5,"v":0.320,"l":0.291},{"t":220,"s":7.5,"v":0.333,"l":0.302},{"t":225,"s":7.5,"v":0.368,"l":0.334},{"t":230,"s":7.5,"v":0.378,"l":0.343},{"t":235,"s":7.5,"v":0.385,"l":0.352},{"t":240,"s":7.5,"v":0.430,"l":0.391},{"t":245,"s":7.5,"v":0.430,"l":0.391},{"t":250,"s":7.5,"v":0.447,"l":0.405},{"t":255,"s":7.5,"v":0.447,"l":0.405},{"t":260,"s":7.5,"v":0.461,"l":0.420},{"t":265,"s":7.5,"v":0.427,"l":0.389},{"t":270,"s":7.5,"v":0.470,"l":0.426},{"t":275,"s":7.5,"v":0.511,"l":0.466},{"t":280,"s":7.5,"v":0.511,"l":0.466},{"t":285,"s":7.5,"v":0.599,"l":0.545},{"t":290,"s":7.5,"v":0.570,"l":0.520},{"t":295,"s":7.5,"v":0.550,"l":0.503},{"t":300,"s":7.5,"v":0.603,"l":0.549},{"t":305,"s":7.5,"v":0.655,"l":0.596},{"t":310,"s":7.5,"v":0.665,"l":0.605},{"t":315,"s":7.5,"v":0.659,"l":0.599},{"t":320,"s":7.5,"v":0.693,"l":0.630},{"t":325,"s":7.5,"v":0.682,"l":0.620},{"t":330,"s":7.5,"v":0.674,"l":0.613},{"t":335,"s":7.5,"v":0.704,"l":0.640},{"t":340,"s":7.5,"v":0.719,"l":0.654},{"t":345,"s":7.5,"v":0.736,"l":0.669},{"t":350,"s":7.5,"v":0.748,"l":0.680},{"t":355,"s":7.5,"v":0.744,"l":0.677},{"t":360,"s":7.5,"v":0.738,"l":0.671},
{"t":360,"s":7.5,"v":0.802,"l":0.732},{"t":365,"s":7.5,"v":0.773,"l":0.704},{"t":370,"s":7.5,"v":0.761,"l":0.692},{"t":375,"s":7.5,"v":0.784,"l":0.713},{"t":380,"s":7.5,"v":0.771,"l":0.700},{"t":385,"s":7.5,"v":0.782,"l":0.711},{"t":390,"s":7.5,"v":0.763,"l":0.694},{"t":395,"s":7.5,"v":0.754,"l":0.688},{"t":400,"s":7.5,"v":0.779,"l":0.705},{"t":405,"s":7.5,"v":0.796,"l":0.723},{"t":410,"s":7.5,"v":0.772,"l":0.701},{"t":415,"s":7.5,"v":0.792,"l":0.719},{"t":420,"s":7.5,"v":0.755,"l":0.688},{"t":425,"s":7.5,"v":0.773,"l":0.703},{"t":430,"s":7.5,"v":0.779,"l":0.708},{"t":435,"s":7.5,"v":0.808,"l":0.736},
{"t":0,"s":10.5,"v":0.012,"l":0.011},{"t":75,"s":10.5,"v":0.012,"l":0.011},{"t":80,"s":10.5,"v":0.016,"l":0.014},{"t":85,"s":10.5,"v":0.012,"l":0.011},{"t":90,"s":10.5,"v":0.012,"l":0.011},{"t":95,"s":10.5,"v":0.018,"l":0.016},{"t":100,"s":10.5,"v":0.022,"l":0.019},{"t":105,"s":10.5,"v":0.022,"l":0.019},{"t":110,"s":10.5,"v":0.022,"l":0.019},{"t":115,"s":10.5,"v":0.031,"l":0.027},{"t":120,"s":10.5,"v":0.030,"l":0.027},{"t":125,"s":10.5,"v":0.032,"l":0.029},{"t":130,"s":10.5,"v":0.035,"l":0.031},{"t":135,"s":10.5,"v":0.046,"l":0.041},{"t":140,"s":10.5,"v":0.044,"l":0.039},{"t":145,"s":10.5,"v":0.052,"l":0.046},{"t":150,"s":10.5,"v":0.071,"l":0.065},{"t":155,"s":10.5,"v":0.065,"l":0.059},{"t":160,"s":10.5,"v":0.067,"l":0.060},{"t":165,"s":10.5,"v":0.057,"l":0.051},{"t":170,"s":10.5,"v":0.072,"l":0.065},{"t":175,"s":10.5,"v":0.075,"l":0.068},{"t":180,"s":10.5,"v":0.091,"l":0.083},
{"t":180,"s":10.5,"v":0.054,"l":0.049},{"t":185,"s":10.5,"v":0.071,"l":0.065},{"t":190,"s":10.5,"v":0.086,"l":0.079},{"t":195,"s":10.5,"v":0.096,"l":0.088},{"t":200,"s":10.5,"v":0.091,"l":0.083},{"t":205,"s":10.5,"v":0.090,"l":0.082},{"t":210,"s":10.5,"v":0.110,"l":0.100},{"t":215,"s":10.5,"v":0.106,"l":0.096},{"t":220,"s":10.5,"v":0.106,"l":0.095},{"t":225,"s":10.5,"v":0.125,"l":0.113},{"t":230,"s":10.5,"v":0.125,"l":0.112},{"t":235,"s":10.5,"v":0.126,"l":0.112},{"t":240,"s":10.5,"v":0.169,"l":0.154},{"t":245,"s":10.5,"v":0.176,"l":0.160},{"t":250,"s":10.5,"v":0.198,"l":0.180},{"t":255,"s":10.5,"v":0.202,"l":0.183},{"t":260,"s":10.5,"v":0.195,"l":0.176},{"t":265,"s":10.5,"v":0.185,"l":0.166},{"t":270,"s":10.5,"v":0.204,"l":0.182},{"t":275,"s":10.5,"v":0.231,"l":0.207},{"t":280,"s":10.5,"v":0.280,"l":0.252},{"t":285,"s":10.5,"v":0.308,"l":0.279},{"t":290,"s":10.5,"v":0.289,"l":0.266},{"t":295,"s":10.5,"v":0.306,"l":0.281},{"t":300,"s":10.5,"v":0.353,"l":0.324},{"t":305,"s":10.5,"v":0.397,"l":0.362},{"t":310,"s":10.5,"v":0.409,"l":0.373},{"t":315,"s":10.5,"v":0.414,"l":0.376},{"t":320,"s":10.5,"v":0.451,"l":0.412},{"t":325,"s":10.5,"v":0.451,"l":0.410},{"t":330,"s":10.5,"v":0.449,"l":0.409},{"t":335,"s":10.5,"v":0.485,"l":0.441},{"t":340,"s":10.5,"v":0.493,"l":0.449},{"t":345,"s":10.5,"v":0.514,"l":0.468},{"t":350,"s":10.5,"v":0.510,"l":0.464},{"t":355,"s":10.5,"v":0.534,"l":0.484},{"t":360,"s":10.5,"v":0.550,"l":0.501},
{"t":360,"s":10.5,"v":0.647,"l":0.590},{"t":365,"s":10.5,"v":0.585,"l":0.536},{"t":370,"s":10.5,"v":0.561,"l":0.511},{"t":375,"s":10.5,"v":0.582,"l":0.531},{"t":380,"s":10.5,"v":0.555,"l":0.507},{"t":385,"s":10.5,"v":0.585,"l":0.532},{"t":390,"s":10.5,"v":0.586,"l":0.534},{"t":395,"s":10.5,"v":0.574,"l":0.522},{"t":400,"s":10.5,"v":0.605,"l":0.550},{"t":405,"s":10.5,"v":0.592,"l":0.540},{"t":410,"s":10.5,"v":0.601,"l":0.547},{"t":415,"s":10.5,"v":0.607,"l":0.551},{"t":420,"s":10.5,"v":0.582,"l":0.531},{"t":425,"s":10.5,"v":0.586,"l":0.535},{"t":430,"s":10.5,"v":0.607,"l":0.550},{"t":435,"s":10.5,"v":0.618,"l":0.561},
{"t":0,"s":13.5,"v":0.012,"l":0.011},{"t":150,"s":13.5,"v":0.012,"l":0.011},{"t":155,"s":13.5,"v":0.013,"l":0.012},{"t":160,"s":13.5,"v":0.013,"l":0.012},{"t":165,"s":13.5,"v":0.014,"l":0.012},{"t":170,"s":13.5,"v":0.015,"l":0.013},{"t":175,"s":13.5,"v":0.017,"l":0.014},{"t":180,"s":13.5,"v":0.018,"l":0.015},
{"t":180,"s":13.5,"v":0.012,"l":0.011},{"t":185,"s":13.5,"v":0.014,"l":0.012},{"t":190,"s":13.5,"v":0.016,"l":0.014},{"t":195,"s":13.5,"v":0.018,"l":0.016},{"t":200,"s":13.5,"v":0.015,"l":0.013},{"t":205,"s":13.5,"v":0.012,"l":0.011},{"t":210,"s":13.5,"v":0.020,"l":0.017},{"t":215,"s":13.5,"v":0.020,"l":0.017},{"t":220,"s":13.5,"v":0.022,"l":0.019},{"t":225,"s":13.5,"v":0.025,"l":0.021},{"t":230,"s":13.5,"v":0.030,"l":0.025},{"t":235,"s":13.5,"v":0.033,"l":0.028},{"t":240,"s":13.5,"v":0.033,"l":0.028},{"t":245,"s":13.5,"v":0.037,"l":0.031},{"t":250,"s":13.5,"v":0.052,"l":0.044},{"t":255,"s":13.5,"v":0.064,"l":0.055},{"t":260,"s":13.5,"v":0.057,"l":0.049},{"t":265,"s":13.5,"v":0.054,"l":0.046},{"t":270,"s":13.5,"v":0.062,"l":0.053},{"t":275,"s":13.5,"v":0.079,"l":0.068},{"t":280,"s":13.5,"v":0.083,"l":0.071},{"t":285,"s":13.5,"v":0.101,"l":0.088},{"t":290,"s":13.5,"v":0.106,"l":0.096},{"t":295,"s":13.5,"v":0.129,"l":0.120},{"t":300,"s":13.5,"v":0.146,"l":0.133},{"t":305,"s":13.5,"v":0.162,"l":0.150},{"t":310,"s":13.5,"v":0.176,"l":0.162},{"t":315,"s":13.5,"v":0.183,"l":0.168},{"t":320,"s":13.5,"v":0.204,"l":0.187},{"t":325,"s":13.5,"v":0.245,"l":0.223},{"t":330,"s":13.5,"v":0.205,"l":0.189},{"t":335,"s":13.5,"v":0.255,"l":0.237},{"t":340,"s":13.5,"v":0.248,"l":0.229},{"t":345,"s":13.5,"v":0.259,"l":0.235},{"t":350,"s":13.5,"v":0.254,"l":0.231},{"t":355,"s":13.5,"v":0.297,"l":0.270},{"t":360,"s":13.5,"v":0.324,"l":0.295},
{"t":360,"s":13.5,"v":0.384,"l":0.348},{"t":365,"s":13.5,"v":0.345,"l":0.312},{"t":370,"s":13.5,"v":0.326,"l":0.297},{"t":375,"s":13.5,"v":0.334,"l":0.304},{"t":380,"s":13.5,"v":0.318,"l":0.287},{"t":385,"s":13.5,"v":0.343,"l":0.312},{"t":390,"s":13.5,"v":0.343,"l":0.310},{"t":395,"s":13.5,"v":0.341,"l":0.310},{"t":400,"s":13.5,"v":0.381,"l":0.348},{"t":405,"s":13.5,"v":0.370,"l":0.337},{"t":410,"s":13.5,"v":0.343,"l":0.312},{"t":415,"s":13.5,"v":0.364,"l":0.330},{"t":420,"s":13.5,"v":0.356,"l":0.324},{"t":425,"s":13.5,"v":0.337,"l":0.306},{"t":430,"s":13.5,"v":0.351,"l":0.320},{"t":435,"s":13.5,"v":0.351,"l":0.320},
{"t":0,"s":16.5,"v":0.012,"l":0.011},{"t":180,"s":16.5,"v":0.012,"l":0.011},{"t":180,"s":16.5,"v":0.012,"l":0.011},{"t":255,"s":16.5,"v":0.012,"l":0.011},{"t":260,"s":16.5,"v":0.013,"l":0.012},{"t":265,"s":16.5,"v":0.015,"l":0.013},{"t":270,"s":16.5,"v":0.020,"l":0.017},{"t":275,"s":16.5,"v":0.020,"l":0.017},{"t":280,"s":16.5,"v":0.022,"l":0.019},{"t":285,"s":16.5,"v":0.033,"l":0.028},{"t":290,"s":16.5,"v":0.032,"l":0.028},{"t":295,"s":16.5,"v":0.036,"l":0.031},{"t":300,"s":16.5,"v":0.037,"l":0.032},{"t":305,"s":16.5,"v":0.064,"l":0.055},{"t":310,"s":16.5,"v":0.058,"l":0.050},{"t":315,"s":16.5,"v":0.075,"l":0.065},{"t":320,"s":16.5,"v":0.072,"l":0.062},{"t":325,"s":16.5,"v":0.097,"l":0.086},{"t":330,"s":16.5,"v":0.072,"l":0.063},{"t":335,"s":16.5,"v":0.098,"l":0.087},{"t":340,"s":16.5,"v":0.089,"l":0.079},{"t":345,"s":16.5,"v":0.106,"l":0.095},{"t":350,"s":16.5,"v":0.106,"l":0.095},{"t":355,"s":16.5,"v":0.115,"l":0.103},{"t":360,"s":16.5,"v":0.160,"l":0.145},
{"t":360,"s":16.5,"v":0.169,"l":0.156},{"t":365,"s":16.5,"v":0.162,"l":0.150},{"t":370,"s":16.5,"v":0.151,"l":0.140},{"t":375,"s":16.5,"v":0.151,"l":0.140},{"t":380,"s":16.5,"v":0.143,"l":0.132},{"t":385,"s":16.5,"v":0.148,"l":0.137},{"t":390,"s":16.5,"v":0.143,"l":0.132},{"t":395,"s":16.5,"v":0.168,"l":0.156},{"t":400,"s":16.5,"v":0.168,"l":0.156},{"t":405,"s":16.5,"v":0.168,"l":0.156},{"t":410,"s":16.5,"v":0.160,"l":0.148},{"t":415,"s":16.5,"v":0.168,"l":0.156},{"t":420,"s":16.5,"v":0.165,"l":0.153},{"t":425,"s":16.5,"v":0.169,"l":0.157},{"t":430,"s":16.5,"v":0.166,"l":0.154},{"t":435,"s":16.5,"v":0.160,"l":0.148},
{"t":0,"s":19.5,"v":0.012,"l":0.011},{"t":180,"s":19.5,"v":0.012,"l":0.011},{"t":180,"s":19.5,"v":0.012,"l":0.011},{"t":295,"s":19.5,"v":0.012,"l":0.011},{"t":300,"s":19.5,"v":0.014,"l":0.012},{"t":305,"s":19.5,"v":0.019,"l":0.016},{"t":310,"s":19.5,"v":0.021,"l":0.018},{"t":315,"s":19.5,"v":0.021,"l":0.018},{"t":320,"s":19.5,"v":0.022,"l":0.019},{"t":325,"s":19.5,"v":0.033,"l":0.029},{"t":330,"s":19.5,"v":0.019,"l":0.017},{"t":335,"s":19.5,"v":0.033,"l":0.029},{"t":340,"s":19.5,"v":0.032,"l":0.028},{"t":345,"s":19.5,"v":0.029,"l":0.026},{"t":350,"s":19.5,"v":0.042,"l":0.038},{"t":355,"s":19.5,"v":0.044,"l":0.040},{"t":360,"s":19.5,"v":0.062,"l":0.057},
{"t":360,"s":19.5,"v":0.077,"l":0.071},{"t":365,"s":19.5,"v":0.062,"l":0.057},{"t":370,"s":19.5,"v":0.058,"l":0.053},{"t":375,"s":19.5,"v":0.046,"l":0.042},{"t":380,"s":19.5,"v":0.039,"l":0.036},{"t":385,"s":19.5,"v":0.054,"l":0.049},{"t":390,"s":19.5,"v":0.060,"l":0.055},{"t":395,"s":19.5,"v":0.065,"l":0.060},{"t":400,"s":19.5,"v":0.060,"l":0.055},{"t":405,"s":19.5,"v":0.073,"l":0.067},{"t":410,"s":19.5,"v":0.067,"l":0.061},{"t":415,"s":19.5,"v":0.057,"l":0.052},{"t":420,"s":19.5,"v":0.050,"l":0.046},{"t":425,"s":19.5,"v":0.061,"l":0.056},{"t":430,"s":19.5,"v":0.056,"l":0.051},{"t":435,"s":19.5,"v":0.060,"l":0.055},
{"t":0,"s":22.5,"v":0.012,"l":0.011},{"t":180,"s":22.5,"v":0.012,"l":0.011},{"t":180,"s":22.5,"v":0.012,"l":0.011},{"t":360,"s":22.5,"v":0.012,"l":0.011},
{"t":360,"s":22.5,"v":0.027,"l":0.024},{"t":365,"s":22.5,"v":0.015,"l":0.013},{"t":370,"s":22.5,"v":0.019,"l":0.016},{"t":375,"s":22.5,"v":0.019,"l":0.016},{"t":380,"s":22.5,"v":0.015,"l":0.013},{"t":385,"s":22.5,"v":0.021,"l":0.018},{"t":390,"s":22.5,"v":0.018,"l":0.016},{"t":395,"s":22.5,"v":0.015,"l":0.013},{"t":400,"s":22.5,"v":0.031,"l":0.027},{"t":405,"s":22.5,"v":0.017,"l":0.015},{"t":410,"s":22.5,"v":0.012,"l":0.011},{"t":415,"s":22.5,"v":0.023,"l":0.020},{"t":420,"s":22.5,"v":0.017,"l":0.015},{"t":425,"s":22.5,"v":0.023,"l":0.020},{"t":430,"s":22.5,"v":0.019,"l":0.017},{"t":435,"s":22.5,"v":0.019,"l":0.017}
],
"count": [
{"t":0,"rt":0,"bt":0,"rp":19.9,"bp":2.0,"rl":5.8,"rh":33.5,"bl":0.0,"bh":3.9},
{"t":5,"rt":0,"bt":0,"rp":20.4,"bp":2.2,"rl":7.0,"rh":33.8,"bl":0.1,"bh":4.2},
{"t":10,"rt":0,"bt":0,"rp":21.5,"bp":2.3,"rl":8.1,"rh":34.2,"bl":0.1,"bh":4.5},
{"t":15,"rt":0,"bt":0,"rp":20.7,"bp":2.4,"rl":7.3,"rh":33.8,"bl":0.1,"bh":4.7},
{"t":20,"rt":0,"bt":0,"rp":20.2,"bp":2.5,"rl":7.0,"rh":33.6,"bl":0.1,"bh":4.8},
{"t":25,"rt":0,"bt":0,"rp":20.9,"bp":2.7,"rl":7.5,"rh":33.8,"bl":0.2,"bh":5.0},
{"t":30,"rt":0,"bt":0,"rp":20.9,"bp":2.5,"rl":8.0,"rh":34.0,"bl":0.2,"bh":4.8},
{"t":35,"rt":0,"bt":0,"rp":21.2,"bp":2.7,"rl":8.8,"rh":33.9,"bl":0.2,"bh":5.2},
{"t":40,"rt":1,"bt":0,"rp":21.7,"bp":2.7,"rl":9.0,"rh":34.2,"bl":0.2,"bh":5.1},
{"t":45,"rt":1,"bt":0,"rp":20.9,"bp":2.7,"rl":8.1,"rh":33.6,"bl":0.2,"bh":5.0},
{"t":50,"rt":1,"bt":0,"rp":20.7,"bp":2.7,"rl":8.1,"rh":33.4,"bl":0.2,"bh":5.1},
{"t":55,"rt":2,"bt":0,"rp":20.1,"bp":2.8,"rl":7.3,"rh":32.7,"bl":0.2,"bh":5.2},
{"t":60,"rt":3,"bt":0,"rp":20.9,"bp":2.8,"rl":8.0,"rh":33.5,"bl":0.2,"bh":5.0},
{"t":65,"rt":3,"bt":0,"rp":21.1,"bp":2.9,"rl":8.5,"rh":33.6,"bl":0.3,"bh":5.5},
{"t":70,"rt":3,"bt":0,"rp":20.6,"bp":2.9,"rl":8.1,"rh":33.0,"bl":0.3,"bh":5.2},
{"t":75,"rt":3,"bt":0,"rp":20.6,"bp":3.1,"rl":8.0,"rh":33.1,"bl":0.3,"bh":5.7},
{"t":80,"rt":3,"bt":0,"rp":20.7,"bp":3.1,"rl":8.4,"rh":32.9,"bl":0.3,"bh":5.6},
{"t":85,"rt":3,"bt":0,"rp":19.9,"bp":3.2,"rl":7.5,"rh":32.1,"bl":0.4,"bh":5.8},
{"t":90,"rt":3,"bt":0,"rp":20.0,"bp":3.2,"rl":8.1,"rh":32.0,"bl":0.4,"bh":5.7},
{"t":95,"rt":3,"bt":0,"rp":20.0,"bp":3.2,"rl":8.3,"rh":31.6,"bl":0.4,"bh":5.9},
{"t":100,"rt":3,"bt":0,"rp":19.3,"bp":3.3,"rl":7.4,"rh":31.1,"bl":0.5,"bh":5.9},
{"t":105,"rt":4,"bt":1,"rp":20.0,"bp":3.8,"rl":8.4,"rh":31.4,"bl":0.7,"bh":6.4},
{"t":110,"rt":4,"bt":2,"rp":19.5,"bp":3.8,"rl":8.1,"rh":30.9,"bl":0.8,"bh":6.5},
{"t":115,"rt":4,"bt":2,"rp":19.8,"bp":3.9,"rl":8.4,"rh":31.0,"bl":0.9,"bh":6.7},
{"t":120,"rt":6,"bt":2,"rp":19.7,"bp":3.9,"rl":8.3,"rh":30.5,"bl":0.9,"bh":6.8},
{"t":125,"rt":7,"bt":2,"rp":18.2,"bp":3.7,"rl":6.2,"rh":30.1,"bl":0.7,"bh":7.0},
{"t":130,"rt":7,"bt":2,"rp":20.0,"bp":4.2,"rl":8.4,"rh":31.1,"bl":1.1,"bh":7.0},
{"t":135,"rt":7,"bt":2,"rp":18.6,"bp":3.9,"rl":6.8,"rh":30.1,"bl":0.8,"bh":7.0},
{"t":140,"rt":9,"bt":2,"rp":18.4,"bp":4.2,"rl":7.0,"rh":29.7,"bl":1.0,"bh":7.4},
{"t":145,"rt":9,"bt":2,"rp":18.6,"bp":4.5,"rl":7.5,"rh":29.9,"bl":1.1,"bh":7.7},
{"t":150,"rt":9,"bt":2,"rp":18.2,"bp":4.6,"rl":7.3,"rh":29.0,"bl":1.2,"bh":7.5},
{"t":155,"rt":11,"bt":2,"rp":18.9,"bp":4.6,"rl":8.1,"rh":29.8,"bl":1.2,"bh":7.8},
{"t":160,"rt":11,"bt":2,"rp":18.9,"bp":4.6,"rl":7.7,"rh":29.6,"bl":1.2,"bh":7.9},
{"t":165,"rt":11,"bt":2,"rp":18.4,"bp":4.6,"rl":7.5,"rh":29.2,"bl":1.3,"bh":8.0},
{"t":170,"rt":11,"bt":2,"rp":18.3,"bp":4.6,"rl":7.6,"rh":29.1,"bl":1.3,"bh":8.1},
{"t":175,"rt":11,"bt":2,"rp":18.2,"bp":4.7,"rl":7.5,"rh":28.6,"bl":1.3,"bh":8.1},
{"t":180,"rt":12,"bt":3,"rp":17.8,"bp":4.8,"rl":7.1,"rh":28.2,"bl":1.5,"bh":8.4},
{"t":180,"rt":0,"bt":0,"rp":19.0,"bp":4.7,"rl":8.3,"rh":29.5,"bl":1.3,"bh":8.0},
{"t":185,"rt":0,"bt":0,"rp":19.5,"bp":5.0,"rl":9.2,"rh":29.7,"bl":1.7,"bh":8.4},
{"t":190,"rt":0,"bt":0,"rp":19.1,"bp":4.9,"rl":8.6,"rh":29.3,"bl":1.6,"bh":8.5},
{"t":195,"rt":0,"bt":0,"rp":19.3,"bp":4.9,"rl":8.2,"rh":29.6,"bl":1.6,"bh":8.4},
{"t":200,"rt":0,"bt":0,"rp":18.5,"bp":4.9,"rl":7.6,"rh":28.9,"bl":1.5,"bh":8.3},
{"t":205,"rt":0,"bt":1,"rp":17.4,"bp":4.8,"rl":6.6,"rh":28.2,"bl":1.5,"bh":8.3},
{"t":210,"rt":0,"bt":1,"rp":18.6,"bp":5.1,"rl":8.2,"rh":29.3,"bl":1.7,"bh":8.6},
{"t":215,"rt":1,"bt":1,"rp":17.6,"bp":4.9,"rl":6.8,"rh":28.4,"bl":1.4,"bh":8.4},
{"t":220,"rt":1,"bt":1,"rp":17.8,"bp":5.0,"rl":7.1,"rh":28.4,"bl":1.6,"bh":8.7},
{"t":225,"rt":1,"bt":1,"rp":17.9,"bp":5.1,"rl":7.4,"rh":28.3,"bl":1.7,"bh":8.8},
{"t":230,"rt":1,"bt":1,"rp":18.2,"bp":5.4,"rl":7.5,"rh":28.8,"bl":1.8,"bh":9.0},
{"t":235,"rt":2,"bt":1,"rp":17.7,"bp":5.4,"rl":7.3,"rh":28.1,"bl":2.0,"bh":9.1},
{"t":240,"rt":2,"bt":1,"rp":17.6,"bp":5.7,"rl":7.0,"rh":27.8,"bl":2.1,"bh":9.6},
{"t":245,"rt":3,"bt":1,"rp":17.3,"bp":5.8,"rl":7.0,"rh":27.3,"bl":2.3,"bh":9.8},
{"t":250,"rt":4,"bt":1,"rp":17.4,"bp":5.9,"rl":6.8,"rh":27.3,"bl":2.5,"bh":10.0},
{"t":255,"rt":4,"bt":1,"rp":17.1,"bp":5.9,"rl":7.1,"rh":26.9,"bl":2.7,"bh":10.1},
{"t":260,"rt":5,"bt":1,"rp":17.0,"bp":6.0,"rl":6.7,"rh":26.6,"bl":3.0,"bh":10.1},
{"t":265,"rt":5,"bt":1,"rp":16.3,"bp":5.7,"rl":6.2,"rh":26.2,"bl":2.6,"bh":9.7},
{"t":270,"rt":6,"bt":1,"rp":16.6,"bp":5.9,"rl":6.5,"rh":26.7,"bl":2.5,"bh":10.4},
{"t":275,"rt":9,"bt":1,"rp":16.4,"bp":6.4,"rl":6.6,"rh":26.0,"bl":2.7,"bh":10.8},
{"t":280,"rt":10,"bt":1,"rp":16.1,"bp":6.4,"rl":6.2,"rh":25.8,"bl":2.5,"bh":11.1},
{"t":285,"rt":10,"bt":1,"rp":17.4,"bp":7.3,"rl":7.1,"rh":26.5,"bl":3.0,"bh":11.7},
{"t":290,"rt":11,"bt":2,"rp":16.3,"bp":7.1,"rl":7.0,"rh":25.6,"bl":2.4,"bh":11.4},
{"t":295,"rt":12,"bt":2,"rp":15.9,"bp":6.8,"rl":6.4,"rh":25.3,"bl":2.1,"bh":11.4},
{"t":300,"rt":12,"bt":5,"rp":16.1,"bp":7.5,"rl":7.0,"rh":25.1,"bl":2.8,"bh":12.4},
{"t":305,"rt":13,"bt":5,"rp":16.1,"bp":8.1,"rl":7.3,"rh":24.9,"bl":3.2,"bh":12.7},
{"t":310,"rt":15,"bt":5,"rp":15.9,"bp":8.1,"rl":7.1,"rh":24.5,"bl":3.2,"bh":12.9},
{"t":315,"rt":15,"bt":6,"rp":15.5,"bp":8.1,"rl":6.7,"rh":23.9,"bl":3.0,"bh":13.2},
{"t":320,"rt":15,"bt":6,"rp":15.4,"bp":8.4,"rl":6.9,"rh":23.9,"bl":3.3,"bh":13.5},
{"t":325,"rt":15,"bt":6,"rp":15.0,"bp":8.5,"rl":6.4,"rh":23.4,"bl":3.2,"bh":13.8},
{"t":330,"rt":16,"bt":6,"rp":15.0,"bp":8.3,"rl":6.4,"rh":23.4,"bl":3.2,"bh":13.3},
{"t":335,"rt":17,"bt":6,"rp":15.1,"bp":8.9,"rl":6.9,"rh":23.2,"bl":3.6,"bh":14.0},
{"t":340,"rt":17,"bt":6,"rp":15.0,"bp":9.0,"rl":6.8,"rh":23.1,"bl":3.6,"bh":14.0},
{"t":345,"rt":17,"bt":6,"rp":14.8,"bp":9.1,"rl":6.8,"rh":22.8,"bl":3.8,"bh":14.2},
{"t":350,"rt":21,"bt":6,"rp":14.5,"bp":9.3,"rl":6.8,"rh":22.2,"bl":3.9,"bh":14.4},
{"t":355,"rt":21,"bt":6,"rp":14.3,"bp":9.4,"rl":6.6,"rh":21.9,"bl":3.9,"bh":14.6},
{"t":360,"rt":21,"bt":6,"rp":14.1,"bp":9.7,"rl":6.6,"rh":21.7,"bl":3.9,"bh":15.3},
{"t":360,"rt":0,"bt":0,"rp":14.0,"bp":10.4,"rl":6.2,"rh":21.2,"bl":4.8,"bh":16.1},
{"t":365,"rt":0,"bt":0,"rp":13.8,"bp":9.9,"rl":6.1,"rh":21.5,"bl":4.4,"bh":15.5},
{"t":370,"rt":2,"bt":1,"rp":13.9,"bp":9.7,"rl":6.0,"rh":21.7,"bl":4.0,"bh":15.2},
{"t":375,"rt":3,"bt":1,"rp":14.9,"bp":9.9,"rl":7.0,"rh":22.5,"bl":4.6,"bh":15.2},
{"t":380,"rt":4,"bt":1,"rp":14.7,"bp":9.7,"rl":7.0,"rh":22.4,"bl":4.5,"bh":14.9},
{"t":385,"rt":5,"bt":3,"rp":14.1,"bp":9.7,"rl":6.6,"rh":21.9,"bl":4.5,"bh":15.4},
{"t":390,"rt":6,"bt":4,"rp":14.0,"bp":9.8,"rl":6.2,"rh":21.7,"bl":4.4,"bh":15.3},
{"t":395,"rt":7,"bt":4,"rp":14.2,"bp":9.7,"rl":6.2,"rh":21.9,"bl":4.5,"bh":15.4},
{"t":400,"rt":7,"bt":4,"rp":14.0,"bp":10.2,"rl":6.4,"rh":21.6,"bl":4.7,"bh":15.9},
{"t":405,"rt":7,"bt":4,"rp":14.6,"bp":10.3,"rl":6.8,"rh":22.2,"bl":4.6,"bh":15.8},
{"t":410,"rt":7,"bt":4,"rp":13.9,"bp":10.0,"rl":6.0,"rh":21.5,"bl":4.3,"bh":15.5},
{"t":415,"rt":7,"bt":4,"rp":13.8,"bp":10.1,"rl":6.4,"rh":21.1,"bl":4.5,"bh":15.7},
{"t":420,"rt":8,"bt":4,"rp":14.1,"bp":9.7,"rl":6.0,"rh":21.9,"bl":4.2,"bh":15.2},
{"t":425,"rt":12,"bt":4,"rp":14.3,"bp":9.9,"rl":6.6,"rh":22.1,"bl":4.4,"bh":15.5},
{"t":430,"rt":15,"bt":4,"rp":14.0,"bp":9.9,"rl":6.1,"rh":21.9,"bl":4.3,"bh":15.6},
{"t":435,"rt":15,"bt":4,"rp":15.0,"bp":10.3,"rl":7.3,"rh":22.7,"bl":4.8,"bh":15.7}
]
},
"vconcat": [
{
 "width": 1982, "height": 467,
 "title": {"text": "RYAN GARNER — Power Strikes Landed R8 Over Full Fight (Event 16198)", "offset": 1},
 "layer": [
  {"data": {"name": "ryan"}, "mark": {"type": "line", "strokeWidth": 2.2, "opacity": 0.9},
   "encoding": {
    "x": {"field": "t", "type": "quantitative", "scale": {"domain": [-21.75, 456.75], "nice": false, "zero": false}, "axis": {"values": [0,100,200,300,400], "labels": false, "title": null, "grid": false}},
    "y": {"field": "v", "type": "quantitative", "scale": {"domain": [0, 1.1500001], "nice": false, "zero": false}, "axis": {"values": [0,0.05,0.1,0.15,0.2,0.25,0.3,0.35,0.4,0.45,0.5,0.55,0.6,0.65,0.7,0.75,0.8,0.85,0.9,0.95,1,1.05,1.1,1.15], "tickCount": 60, "format": ".2f", "title": "Prob", "grid": true, "labelFlush": false, "titlePadding": 19}},
    "color": {"field": "s", "type": "nominal", "scale": {"domain": [4.5,7.5,10.5,13.5,16.5,19.5,22.5], "range": ["#e63a5c","#4cb850","#5a7ade","#f5914a","#9c3ebf","#4fd4f2","#f04ce6"]},
     "legend": {"title": null, "orient": "top-right", "offset": 5, "columns": 4, "symbolType": "M-1,0H3", "symbolSize": 182, "symbolStrokeWidth": 2.5, "labelFontSize": 12, "labelOffset": 22, "labelExpr": "'over ' + datum.label", "fillColor": "rgba(255,255,255,0.8)", "strokeColor": "#cccccc", "padding": 5, "cornerRadius": 3, "rowPadding": 5, "columnPadding": 24}}
   }},
  {"data": {"name": "ryan"}, "mark": {"type": "line", "strokeDash": [2,3], "strokeWidth": 1.4, "opacity": 0.65},
   "encoding": {"x": {"field": "t", "type": "quantitative"}, "y": {"field": "l", "type": "quantitative"}, "color": {"field": "s", "type": "nominal"}}},
  {"data": {"name": "ryan"}, "mark": {"type": "area", "opacity": 0.1},
   "encoding": {"x": {"field": "t", "type": "quantitative"}, "y": {"field": "l", "type": "quantitative"}, "y2": {"field": "v"}, "color": {"field": "s", "type": "nominal"}}},
  {"data": {"name": "rounds"}, "mark": {"type": "rule", "strokeDash": [2,2], "color": "#555555", "strokeWidth": 1, "opacity": 0.8},
   "encoding": {"x": {"field": "t", "type": "quantitative"}}},
  {"data": {"name": "rounds"}, "mark": {"type": "text", "align": "left", "baseline": "middle", "dx": 8, "fontSize": 15, "color": "#666666"},
   "encoding": {"x": {"field": "t", "type": "quantitative"}, "y": {"datum": 1.095}, "text": {"field": "r"}}}
 ]
},
{
 "width": 1982, "height": 467,
 "title": {"text": "CRISTIAN BELMA — Power Strikes Landed R8 Over Full Fight (Event 16198)", "offset": 1},
 "layer": [
  {"data": {"name": "belma"}, "mark": {"type": "line", "strokeWidth": 2.2, "opacity": 0.9},
   "encoding": {
    "x": {"field": "t", "type": "quantitative", "scale": {"domain": [-21.75, 456.75], "nice": false, "zero": false}, "axis": {"values": [0,100,200,300,400], "labels": false, "title": null, "grid": false}},
    "y": {"field": "v", "type": "quantitative", "scale": {"domain": [0, 1.1500001], "nice": false, "zero": false}, "axis": {"values": [0,0.05,0.1,0.15,0.2,0.25,0.3,0.35,0.4,0.45,0.5,0.55,0.6,0.65,0.7,0.75,0.8,0.85,0.9,0.95,1,1.05,1.1,1.15], "tickCount": 60, "format": ".2f", "title": "Prob", "grid": true, "labelFlush": false, "titlePadding": 19}},
    "color": {"field": "s", "type": "nominal", "scale": {"domain": [4.5,7.5,10.5,13.5,16.5,19.5,22.5], "range": ["#e63a5c","#4cb850","#5a7ade","#f5914a","#9c3ebf","#4fd4f2","#f04ce6"]},
     "legend": {"title": null, "orient": "top-right", "offset": 5, "columns": 4, "symbolType": "M-1,0H3", "symbolSize": 182, "symbolStrokeWidth": 2.5, "labelFontSize": 12, "labelOffset": 22, "labelExpr": "'over ' + datum.label", "fillColor": "rgba(255,255,255,0.8)", "strokeColor": "#cccccc", "padding": 5, "cornerRadius": 3, "rowPadding": 5, "columnPadding": 24}}
   }},
  {"data": {"name": "belma"}, "mark": {"type": "line", "strokeDash": [2,3], "strokeWidth": 1.4, "opacity": 0.65},
   "encoding": {"x": {"field": "t", "type": "quantitative"}, "y": {"field": "l", "type": "quantitative"}, "color": {"field": "s", "type": "nominal"}}},
  {"data": {"name": "belma"}, "mark": {"type": "area", "opacity": 0.1},
   "encoding": {"x": {"field": "t", "type": "quantitative"}, "y": {"field": "l", "type": "quantitative"}, "y2": {"field": "v"}, "color": {"field": "s", "type": "nominal"}}},
  {"data": {"name": "rounds"}, "mark": {"type": "rule", "strokeDash": [2,2], "color": "#555555", "strokeWidth": 1, "opacity": 0.8},
   "encoding": {"x": {"field": "t", "type": "quantitative"}}},
  {"data": {"name": "rounds"}, "mark": {"type": "text", "align": "left", "baseline": "middle", "dx": 8, "fontSize": 15, "color": "#666666"},
   "encoding": {"x": {"field": "t", "type": "quantitative"}, "y": {"datum": 1.095}, "text": {"field": "r"}}}
 ]
},
{
 "width": 1982, "height": 312,
 "title": {"text": " ", "fontSize": 20},
 "layer": [
  {"data": {"name": "count"}, "mark": {"type": "area", "color": "#ff4d4d", "opacity": 0.19, "stroke": "#ff5555", "strokeWidth": 1, "strokeOpacity": 0.35},
   "encoding": {
    "x": {"field": "t", "type": "quantitative", "scale": {"domain": [-21.75, 456.75], "nice": false, "zero": false}, "axis": {"values": [0,100,200,300,400], "title": "Fight time (seconds)", "titleFontSize": 19, "grid": false, "labelFlush": false, "titlePadding": 14}},
    "y": {"field": "rl", "type": "quantitative", "scale": {"domain": [-1.8, 36.6], "nice": false, "zero": false}, "axis": {"values": [0,5,10,15,20,25,30,35], "tickCount": 20, "title": "Count", "titleFontSize": 16, "grid": true, "labelFlush": false, "titlePadding": 19}},
    "y2": {"field": "rh"}
   }},
  {"data": {"name": "count"}, "mark": {"type": "area", "color": "#4d4dff", "opacity": 0.17, "stroke": "#5555ff", "strokeWidth": 1, "strokeOpacity": 0.3},
   "encoding": {"x": {"field": "t", "type": "quantitative"}, "y": {"field": "bl", "type": "quantitative"}, "y2": {"field": "bh"}}},
  {"data": {"name": "count"}, "transform": [{"fold": ["rt","bt","rp","bp"], "as": ["k","val"]}],
   "mark": {"type": "line", "strokeWidth": 3, "strokeCap": "butt"},
   "encoding": {
    "x": {"field": "t", "type": "quantitative"},
    "y": {"field": "val", "type": "quantitative"},
    "color": {"field": "k", "type": "nominal", "scale": {"domain": ["rt","bt","rp","bp"], "range": ["#ff3838","#3838ff","#ff6262","#6262ff"]},
     "legend": {"title": null, "orient": "top-left", "offset": 6, "symbolType": "M-1,0H3", "symbolSize": 256, "symbolStrokeWidth": 3, "labelFontSize": 13.5, "labelLimit": 400, "labelOffset": 26, "labelExpr": "datum.label == 'rt' ? 'Truth RYAN GARNER: 15' : datum.label == 'bt' ? 'Truth CRISTIAN BELMA: 4' : datum.label == 'rp' ? 'Predicted RYAN GARNER: 19.9' : 'Predicted CRISTIAN BELMA: 2.0'", "fillColor": "rgba(255,255,255,0.8)", "strokeColor": "#cccccc", "padding": 6, "cornerRadius": 3, "rowPadding": 7}},
    "strokeDash": {"field": "k", "type": "nominal", "scale": {"domain": ["rt","bt","rp","bp"], "range": [[1,0],[1,0],[3,5],[3,5]]}}
   }},
  {"data": {"name": "rounds"}, "mark": {"type": "rule", "strokeDash": [2,2], "color": "#555555", "strokeWidth": 1, "opacity": 0.8},
   "encoding": {"x": {"field": "t", "type": "quantitative"}}},
  {"data": {"name": "rounds"}, "mark": {"type": "text", "align": "left", "baseline": "middle", "dx": 8, "fontSize": 15, "color": "#666666"},
   "encoding": {"x": {"field": "t", "type": "quantitative"}, "y": {"datum": 34.4}, "text": {"field": "r"}}}
 ]
}
],
"resolve": {"scale": {"color": "independent", "y": "independent", "strokeDash": "independent"}, "legend": {"color": "independent", "strokeDash": "independent"}}
}
